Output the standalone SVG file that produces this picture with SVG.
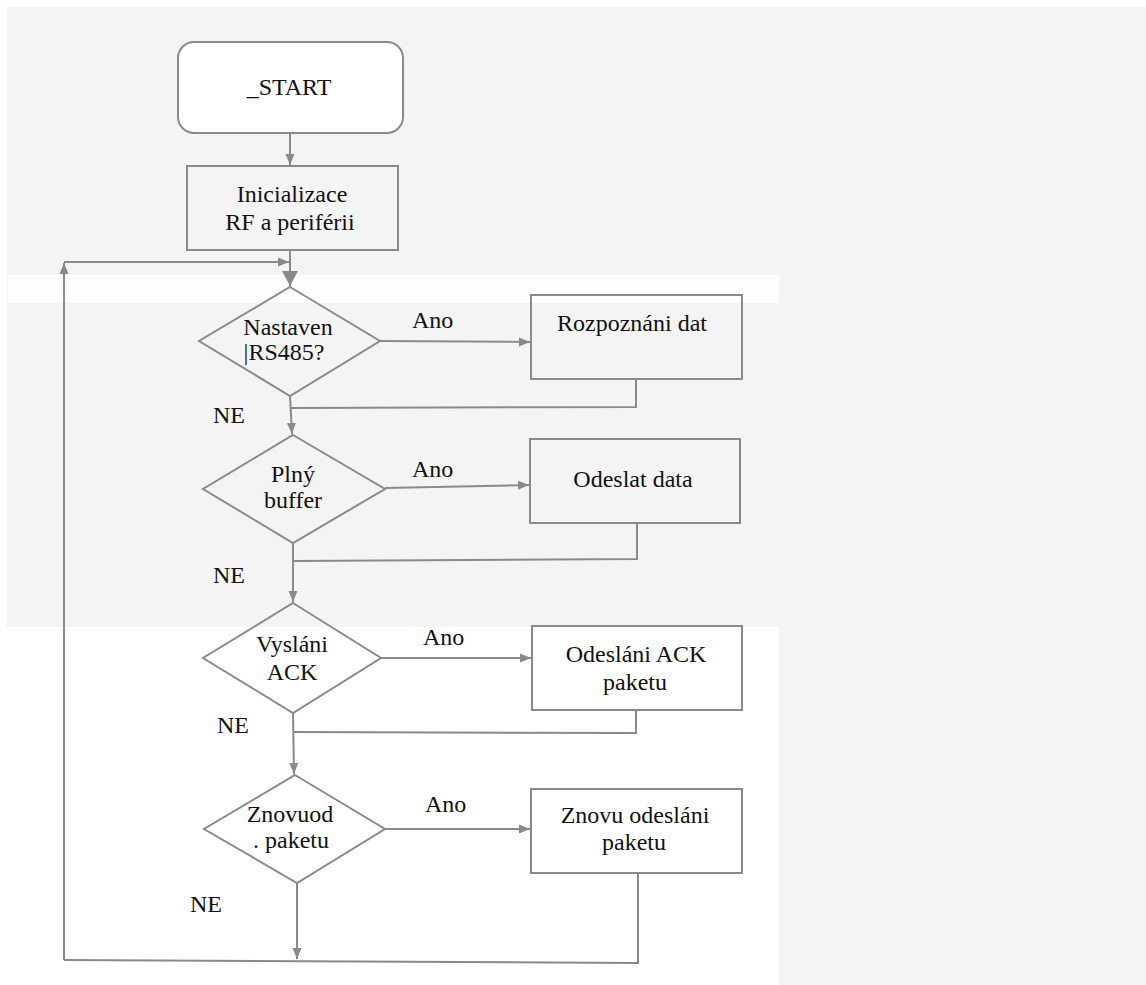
<svg xmlns="http://www.w3.org/2000/svg" width="1146" height="985" viewBox="0 0 1146 985">
<style>
.shape{fill:none;stroke:#8a8a8a;stroke-width:2}
.line{fill:none;stroke:#8a8a8a;stroke-width:2}
text{font-family:'Liberation Serif','DejaVu Serif',serif;font-size:24px;fill:#111}
.c{text-anchor:middle}
</style>
<defs>
<marker id="arr" markerUnits="userSpaceOnUse" markerWidth="12" markerHeight="10" refX="11" refY="5" orient="auto">
<path d="M0,0.5 L11,5 L0,9.5 z" fill="#8a8a8a"/>
</marker>
<marker id="arrBig" markerUnits="userSpaceOnUse" markerWidth="16" markerHeight="18" refX="15" refY="9" orient="auto">
<path d="M0,1 L15,9 L0,17 z" fill="#8a8a8a"/>
</marker>
</defs>
<rect x="0" y="0" width="1146" height="985" fill="#ffffff"/>
<rect x="7" y="7" width="1139" height="978" fill="#f4f4f4"/>
<rect x="8" y="275" width="771" height="28" fill="#fdfdfd"/>
<rect x="7" y="627" width="772" height="358" fill="#ffffff"/>

<g id="connectors">
<path class="line" d="M290,133 L290,165" marker-end="url(#arr)"/>
<path class="line" d="M290,250 L290,286" marker-end="url(#arrBig)"/>
<path class="line" d="M64,960 L64,263" marker-end="url(#arr)"/>
<path class="line" d="M64,262 L289,262" marker-end="url(#arr)"/>
<path class="line" d="M380,341 L530,342" marker-end="url(#arr)"/>
<path class="line" d="M636,379 L636,407 L290,408"/>
<path class="line" d="M290,396 L292,434" marker-end="url(#arr)"/>
<path class="line" d="M385,488 L529,485" marker-end="url(#arr)"/>
<path class="line" d="M637,523 L637,559 L293,561"/>
<path class="line" d="M293,543 L293,602" marker-end="url(#arr)"/>
<path class="line" d="M381,658 L531,658" marker-end="url(#arr)"/>
<path class="line" d="M636,710 L636,733 L293,732"/>
<path class="line" d="M293,713 L294,774" marker-end="url(#arr)"/>
<path class="line" d="M385,829 L530,829" marker-end="url(#arr)"/>
<path class="line" d="M638,873 L638,963 L64,960"/>
<path class="line" d="M297,883 L297,959" marker-end="url(#arr)"/>
</g>

<g id="start">
<rect x="178" y="42" width="225" height="91" rx="16" ry="16" fill="#ffffff" stroke="#8a8a8a" stroke-width="2"/>
<text class="c" x="289" y="95">_START</text>
</g>
<g id="init">
<rect class="shape" x="187" y="166" width="211" height="84"/>
<text class="c" x="292" y="202">Inicializace</text>
<text class="c" x="290" y="230">RF a periférii</text>
</g>
<g id="d1">
<polygon class="shape" points="290,287 380,341 290,396 199,341"/>
<text class="c" x="288" y="335">Nastaven</text>
<text class="c" x="284" y="360">|RS485?</text>
</g>
<g id="b1">
<rect class="shape" x="531" y="295" width="211" height="84"/>
<text class="c" x="632" y="331">Rozpoznáni dat</text>
</g>
<g id="d2">
<polygon class="shape" points="293,435 385,489 293,543 203,489"/>
<text class="c" x="293" y="482">Plný</text>
<text class="c" x="293" y="508">buffer</text>
</g>
<g id="b2">
<rect class="shape" x="530" y="439" width="210" height="84"/>
<text class="c" x="633" y="487">Odeslat data</text>
</g>
<g id="d3">
<polygon class="shape" points="293,603 381,658 293,713 203,658"/>
<text class="c" x="292" y="652">Vysláni</text>
<text class="c" x="292" y="680">ACK</text>
</g>
<g id="b3">
<rect class="shape" x="532" y="626" width="210" height="84"/>
<text class="c" x="636" y="662">Odesláni ACK</text>
<text class="c" x="635" y="690">paketu</text>
</g>
<g id="d4">
<polygon class="shape" points="295,775 385,829 297,883 204,829"/>
<text class="c" x="290" y="822">Znovuod</text>
<text class="c" x="291" y="848">. paketu</text>
</g>
<g id="b4">
<rect class="shape" x="531" y="789" width="211" height="84"/>
<text class="c" x="635" y="823">Znovu odesláni</text>
<text class="c" x="634" y="850">paketu</text>
</g>

<g id="labels">
<text x="412" y="328">Ano</text>
<text x="412" y="477">Ano</text>
<text x="423" y="645">Ano</text>
<text x="425" y="812">Ano</text>
<text x="213" y="423">NE</text>
<text x="213" y="583">NE</text>
<text x="217" y="733">NE</text>
<text x="190" y="912">NE</text>
</g>
</svg>
